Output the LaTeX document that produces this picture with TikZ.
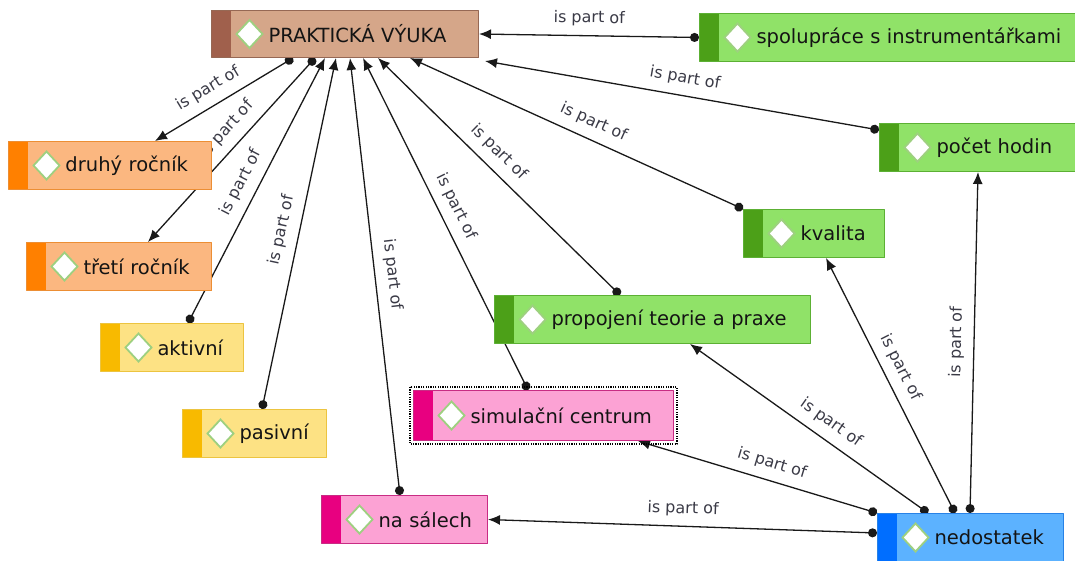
\documentclass[tikz,border=0pt]{standalone}
\usepackage{fontspec}
\newfontfamily\dejavu{DejaVu Sans}
\usetikzlibrary{arrows.meta}
\pgfdeclarelayer{background}
\pgfsetlayers{background,main}

\definecolor{tanF}{RGB}{213,166,137}
\definecolor{tanS}{RGB}{160,96,76}
\definecolor{tanD}{RGB}{150,104,84}
\definecolor{greenF}{RGB}{144,226,104}
\definecolor{greenS}{RGB}{76,160,24}
\definecolor{greenD}{RGB}{92,176,52}
\definecolor{orangeF}{RGB}{251,183,128}
\definecolor{orangeS}{RGB}{255,128,0}
\definecolor{orangeD}{RGB}{236,142,52}
\definecolor{yellowF}{RGB}{253,226,132}
\definecolor{yellowS}{RGB}{248,186,0}
\definecolor{yellowD}{RGB}{236,196,64}
\definecolor{pinkF}{RGB}{252,162,212}
\definecolor{pinkS}{RGB}{232,0,128}
\definecolor{pinkD}{RGB}{200,44,132}
\definecolor{blueF}{RGB}{92,178,255}
\definecolor{blueS}{RGB}{0,110,255}
\definecolor{blueD}{RGB}{40,130,230}
\definecolor{iconG}{RGB}{158,208,128}
\definecolor{lblC}{RGB}{58,58,70}

\tikzset{
  concept/.style n args={3}{fill=#1, draw=#3, line width=1pt, anchor=north west,
    inner xsep=0pt, inner ysep=0pt, minimum height=48pt, align=left,
    text=black!92, font=\dejavu\fontsize{19.5}{23}\selectfont,
    execute at begin node=\hspace*{57pt},
    path picture={
      \fill[#2] (path picture bounding box.north west) rectangle ([xshift=19pt]path picture bounding box.south west);
      \draw[icon] ([xshift=38pt,yshift=14pt]path picture bounding box.west) -- ++(13pt,-14pt) -- ++(-13pt,-14pt) -- ++(-13pt,14pt) -- cycle;
    }},
  icon/.style={fill=white, draw=iconG, line width=1.8pt, line join=miter},
  link/.style={{Circle[length=9pt]}-{Latex[length=12pt,width=10pt]}, line width=1.3pt, black!90},
  lbl/.style={sloped, above=7pt, inner sep=2pt, text=lblC, font=\dejavu\fontsize{16}{19}\selectfont},
}

\begin{document}
\begin{tikzpicture}[x=1pt,y=-1pt,line join=round]
\useasboundingbox (0,0) rectangle (1075,560);
\clip (0,0) rectangle (1075,560);

% concepts
\node[concept={tanF}{tanS}{tanD}, text width=267pt, minimum height=47pt] (prak) at (211,10) {PRAKTICKÁ VÝUKA};
\node[concept={greenF}{greenS}{greenD}, text width=380pt] (spol) at (699,13) {spolupráce s instrumentářkami};
\node[concept={orangeF}{orangeS}{orangeD}, text width=203pt] (druhy) at (8,141) {druhý ročník};
\node[concept={orangeF}{orangeS}{orangeD}, text width=185pt] (treti) at (26,242) {třetí ročník};
\node[concept={yellowF}{yellowS}{yellowD}, text width=143pt] (aktiv) at (100,323) {aktivní};
\node[concept={yellowF}{yellowS}{yellowD}, text width=144pt] (pasiv) at (182,409) {pasivní};
\node[concept={pinkF}{pinkS}{pinkD}, text width=260pt, minimum height=50pt] (simul) at (413,390) {simulační centrum};
\node[concept={pinkF}{pinkS}{pinkD}, text width=166pt] (nasal) at (321,495) {na sálech};
\node[concept={greenF}{greenS}{greenD}, text width=316pt] (propoj) at (494,295) {propojení teorie a praxe};
\node[concept={greenF}{greenS}{greenD}, text width=141pt] (kval) at (743,209) {kvalita};
\node[concept={greenF}{greenS}{greenD}, text width=196pt] (pocet) at (879,123) {počet hodin};
\node[concept={blueF}{blueS}{blueD}, text width=186pt] (ned) at (877,513) {nedostatek};

% selection frame
\draw[line width=1.2pt, dash pattern=on 1.2pt off 1.2pt] ([shift={(-3,-3)}]simul.north west) rectangle ([shift={(3,3)}]simul.south east);

\begin{pgfonlayer}{background}
% into PRAKTICKÁ VÝUKA
\draw[link] (spol.west) -- node[lbl]{is part of} (prak.east);
\draw[link] ([shift={(0,7)}]pocet.north west) -- node[lbl]{is part of} ([shift={(6,3)}]prak.south east);
\draw[link] (kval.north west) -- node[lbl,pos=.47]{is part of} ([shift={(199,0)}]prak.south west);
\draw[link] ([shift={(126,0)}]propoj.north west) -- node[lbl,pos=.55]{is part of} ([shift={(167,0)}]prak.south west);
\draw[link] ([shift={(115,0)}]simul.north west) -- node[lbl,pos=.53]{is part of} ([shift={(152,0)}]prak.south west);
\draw[link] ([shift={(79,0)}]nasal.north west) -- node[lbl]{is part of} ([shift={(139,0)}]prak.south west);
\draw[link] ([shift={(88,0)}]aktiv.north west) -- node[lbl]{is part of} ([shift={(114,0)}]prak.south west);
\draw[link] ([shift={(80,0)}]pasiv.north west) -- node[lbl]{is part of} ([shift={(125,0)}]prak.south west);
% out of PRAKTICKÁ VÝUKA
\draw[link] ([shift={(82,0)}]prak.south west) -- node[lbl,pos=.55]{is part of} ([shift={(147,0)}]druhy.north west);
\draw[link] ([shift={(104,0)}]prak.south west) -- node[lbl,pos=.45]{is part of} ([shift={(122,0)}]treti.north west);
% from nedostatek
\draw[link] ([shift={(0,20)}]ned.north west) -- node[lbl]{is part of} (nasal.east);
\draw[link] (ned.north west) -- node[lbl,pos=.46]{is part of} ([shift={(225,0)}]simul.south west);
\draw[link] ([shift={(51,0)}]ned.north west) -- node[lbl,pos=.45]{is part of} ([shift={(196,0)}]propoj.south west);
\draw[link] ([shift={(78,0)}]ned.north west) -- node[lbl,pos=.54]{is part of} ([shift={(83,0)}]kval.south west);
\draw[link] ([shift={(93,0)}]ned.north west) -- node[lbl]{is part of} ([shift={(99,0)}]pocet.south west);
\end{pgfonlayer}
\end{tikzpicture}
\end{document}
